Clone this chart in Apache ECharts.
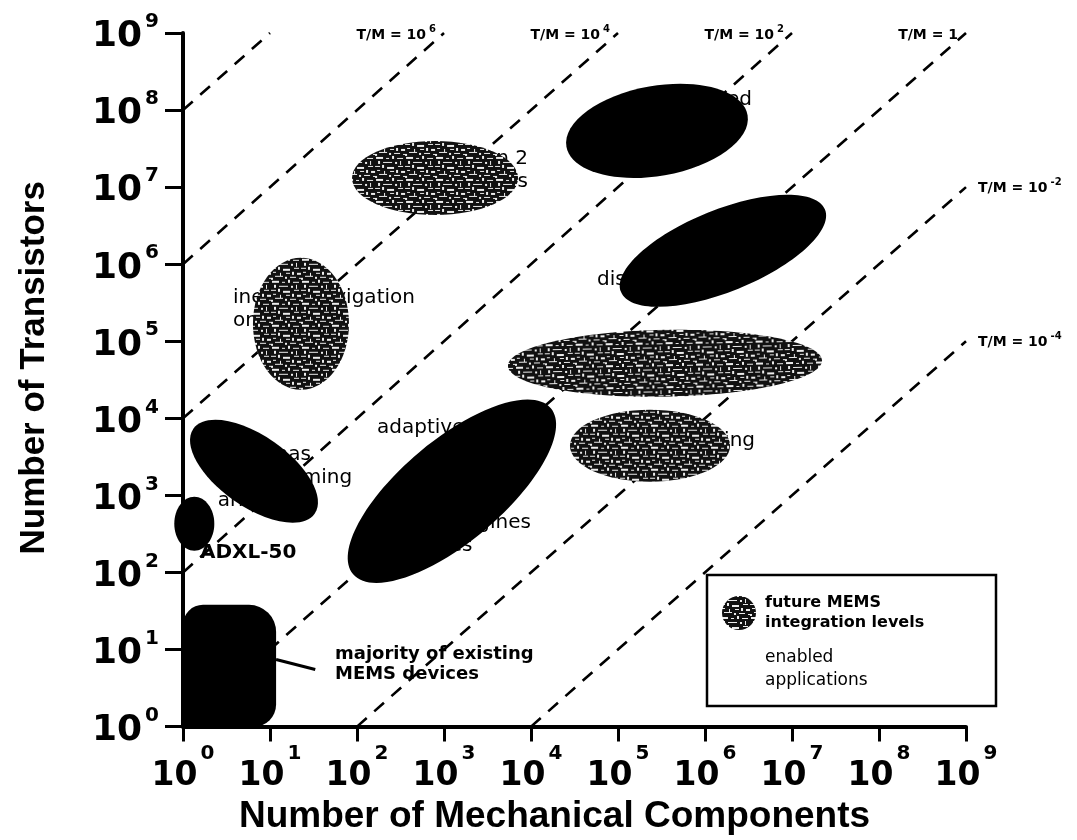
<!DOCTYPE html>
<html><head><meta charset="utf-8">
<script src="https://cdn.jsdelivr.net/npm/echarts@6/dist/echarts.min.js"></script>
<style>html,body{margin:0;padding:0;background:#fff}#c{width:1077px;height:840px}</style>
</head><body><div id="c"></div>
<script>
// ---- data (all positions in log10 units) ----
const xTickExponents = [0,1,2,3,4,5,6,7,8,9];
const yTickExponents = [0,1,2,3,4,5,6,7,8,9];
// T/M = 10^k reference lines
const ratioExponents = [8, 6, 4, 2, 0, -2, -4];
const ratioLabels = ['', 'T/M = 10{s|6}', 'T/M = 10{s|4}', 'T/M = 10{s|2}', 'T/M = 1', 'T/M = 10{s|-2}', 'T/M = 10{s|-4}'];
// future MEMS integration levels: [log10 mech, log10 transistors, half-width (decades x), half-height (decades y), tilt deg]
const futureRegions = [
  [1.356, 5.227, 0.552, 0.856, 0],
  [2.897, 7.120, 0.954, 0.480, 0],
  [5.540, 4.715, 1.805, 0.434, 1],
  [5.368, 3.645, 0.920, 0.467, 0]
];
// enabled applications
const enabledRegions = [
  [5.448, 7.730, 1.057, 0.584, 10],
  [6.207, 6.174, 1.264, 0.532, 22],
  [3.092, 3.054, 1.483, 0.660, 40],
  [0.816, 3.314, 0.851, 0.460, -35],
  [0.130, 2.633, 0.230, 0.350, 0]
];
// majority of existing MEMS devices: [x0, y0, x1, y1]
const existingBlock = [0, 0, 1.07, 1.58];
const existingPointer = [[1.07, 0.87], [1.52, 0.74]];
// application labels and anchors
const appLabels = ['inertial navigation\non a chip', 'adaptive optics', 'antennas\nbeamforming\narrays',
  'micro engines\nturbines', 'fluid handling', 'displays', 'integrated', 'information 2\nsystems'];
const appAnchors = [[0.575,5.42],[2.23,3.878],[0.40,3.23],[2.379,2.49],[6.575,3.71],[4.759,5.798],[6.54,8.13],[3.966,7.22]];
const boldLabels = ['majority of existing\nMEMS devices', 'ADXL-50'];
const boldAnchors = [[1.747,0.804],[0.195,2.257]];

// ---- styles ----
const appAlign = ['left','left','left','left','right','left','right','right'];
function makeTexture(){
  const c = document.createElement('canvas'); c.width = 30; c.height = 22;
  const g = c.getContext('2d');
  g.fillStyle = '#111'; g.fillRect(0,0,30,22);
  g.fillStyle = '#ececec';
  [[1,1,7,2],[11,2,3,1],[17,0,2,3],[22,2,6,1],[3,5,2,3],[8,6,9,1],[20,6,2,2],[25,5,1,4],
   [0,10,5,1],[7,9,2,3],[12,11,7,2],[23,10,5,1],[2,14,3,1],[9,15,1,3],[15,15,4,1],[21,14,2,3],
   [26,15,4,2],[4,18,8,1],[14,19,2,2],[19,19,6,1],[28,20,2,1],[0,20,2,2]]
    .forEach(m => g.fillRect(m[0],m[1],m[2],m[3]));
  return c;
}
const texture = {image: makeTexture(), repeat: 'repeat'};
const P = e => Math.pow(10, e);

function ellipseItem(fill){
  return function(params, api){
    const lx = api.value(0), ly = api.value(1), ax = api.value(2), ay = api.value(3), ang = api.value(4);
    const c = api.coord([P(lx), P(ly)]);
    const cx1 = api.coord([P(lx + ax), P(ly)]);
    const cy1 = api.coord([P(lx), P(ly + ay)]);
    return {type:'ellipse', x:c[0], y:c[1], rotation: ang*Math.PI/180,
      shape:{cx:0, cy:0, rx:Math.abs(cx1[0]-c[0]), ry:Math.abs(cy1[1]-c[1])},
      style:{fill: fill}};
  };
}

const lineSeries = ratioExponents.map(k => {
  const x0 = Math.max(0, -k), x1 = Math.min(9, 9 - k);
  return {type:'line', data:[[P(x0), P(x0+k)], [P(x1), P(x1+k)]], symbol:'none', silent:true, z:1,
    lineStyle:{color:'#000', width:2.6, type:[13,10]}, animation:false};
});

const chart = echarts.init(document.getElementById('c'));
const tickRich = function(big, small, raise, drop){
  return {b:{fontFamily:'DejaVu Sans', fontWeight:'bold', fontSize:big, color:'#000', padding:[drop,0,0,0]},
          s:{fontFamily:'DejaVu Sans', fontWeight:'bold', fontSize:small, color:'#000', padding:[0,0,raise,3]}};
};
chart.setOption({
  animation:false,
  backgroundColor:'#fff',
  grid:{left:183, right:111, top:33, bottom:113},
  xAxis:{type:'log', logBase:10, min:P(xTickExponents[0]), max:P(xTickExponents[xTickExponents.length-1]),
    name:'Number of Mechanical Components', nameLocation:'middle', nameGap:68,
    nameTextStyle:{fontFamily:'Liberation Sans', fontWeight:'bold', fontSize:37, color:'#000', padding:[0,40,0,0]},
    axisLine:{lineStyle:{color:'#000', width:4}},
    axisTick:{length:15, lineStyle:{color:'#000', width:3}},
    splitLine:{show:false}, minorTick:{show:false},
    axisLabel:{interval:0, margin:17, showMinLabel:true, showMaxLabel:true,
      formatter: v => '{b|10}{s|' + Math.round(Math.log10(v)) + '}', rich: tickRich(33, 20, 46, 0)}},
  yAxis:{type:'log', logBase:10, min:P(yTickExponents[0]), max:P(yTickExponents[yTickExponents.length-1]),
    name:'Number of Transistors', nameLocation:'middle', nameGap:131, nameRotate:90,
    nameTextStyle:{fontFamily:'Liberation Sans', fontWeight:'bold', fontSize:35, color:'#000', padding:[0,0,0,24]},
    axisLine:{lineStyle:{color:'#000', width:4}},
    axisTick:{length:18, lineStyle:{color:'#000', width:3}},
    splitLine:{show:false}, minorTick:{show:false},
    axisLabel:{interval:0, margin:24, showMinLabel:true, showMaxLabel:true,
      formatter: v => '{b|10}{s|' + Math.round(Math.log10(v)) + '}', rich: tickRich(36, 20, 22, 8)}},
  series: lineSeries.concat([
    { // T/M labels
      type:'custom', z:2, silent:true, coordinateSystem:'cartesian2d',
      data: ratioExponents.map((k,i) => [P(Math.min(9, 9-k)), P(Math.min(9, 9-k) + k), i]),
      renderItem:(params, api) => {
        const i = api.value(2); const k = ratioExponents[i];
        if (!ratioLabels[i]) return null;
        const p = api.coord([api.value(0), api.value(1)]);
        const top = k >= 0;
        return {type:'text', x: top ? p[0]-8 : p[0]+12, y: top ? p[1]+2 : p[1]+1,
          style:{text: ratioLabels[i], fill:'#000', fontFamily:'DejaVu Sans', fontWeight:'bold', fontSize:14,
            align: top ? 'right' : 'left', verticalAlign:'middle',
            rich:{s:{fontFamily:'DejaVu Sans', fontWeight:'bold', fontSize:10, fill:'#000', padding:[0,0,12,3]}}}};
      }
    },
    { // application labels
      type:'custom', z:2, silent:true,
      data: appAnchors.map((a,i) => [P(a[0]), P(a[1]), i]),
      renderItem:(params, api) => {
        const i = api.value(2);
        const p = api.coord([api.value(0), api.value(1)]);
        return {type:'text', x:p[0], y:p[1], style:{text: appLabels[i], fill:'#000', fontFamily:'DejaVu Sans',
          fontSize:20, lineHeight:23, align: appAlign[i], verticalAlign:'middle'}};
      }
    },
    { // bold labels
      type:'custom', z:2, silent:true,
      data: boldAnchors.map((a,i) => [P(a[0]), P(a[1]), i]),
      renderItem:(params, api) => {
        const i = api.value(2);
        const p = api.coord([api.value(0), api.value(1)]);
        return {type:'text', x:p[0], y:p[1], style:{text: boldLabels[i], fill:'#000', fontFamily:'DejaVu Sans',
          fontWeight:'bold', fontSize: i === 1 ? 20 : 18, lineHeight:20, align:'left', verticalAlign:'middle'}};
      }
    },
    { // pointer
      type:'line', z:3, silent:true, symbol:'none', data: existingPointer.map(p => [P(p[0]), P(p[1])]),
      lineStyle:{color:'#000', width:3, type:'solid'}
    },
    { // future regions
      type:'custom', z:3, silent:true, data: futureRegions.map(r => r.slice()),
      encode:{x:-1, y:-1}, dimensions:['a','b','c','d','e'],
      renderItem: ellipseItem(texture)
    },
    { // enabled regions
      type:'custom', z:3, silent:true, data: enabledRegions.map(r => r.slice()),
      encode:{x:-1, y:-1}, dimensions:['a','b','c','d','e'],
      renderItem: ellipseItem('#000')
    },
    { // existing devices block
      type:'custom', z:3, silent:true, data:[[P(existingBlock[0]), P(existingBlock[1]), P(existingBlock[2]), P(existingBlock[3])]],
      renderItem:(params, api) => {
        const a = api.coord([api.value(0), api.value(1)]);
        const b = api.coord([api.value(2), api.value(3)]);
        return {type:'rect', shape:{x:a[0], y:b[1], width:b[0]-a[0], height:a[1]-b[1], r:[20,27,22,0]}, style:{fill:'#000'}};
      }
    }
  ]),
  graphic:[
    {type:'rect', z:10, shape:{x:707, y:575, width:289, height:131}, style:{fill:'#fff', stroke:'#000', lineWidth:2.5}},
    {type:'circle', z:11, shape:{cx:739, cy:613, r:17}, style:{fill:texture}},
    {type:'text', z:11, x:765, y:613, style:{text:'future MEMS\nintegration levels', fill:'#000', fontFamily:'DejaVu Sans', fontWeight:'bold', fontSize:16, lineHeight:20, verticalAlign:'middle'}},
    {type:'text', z:11, x:765, y:669, style:{text:'enabled\napplications', fill:'#000', fontFamily:'DejaVu Sans', fontSize:17, lineHeight:23, verticalAlign:'middle'}}
  ]
});
</script></body></html>
